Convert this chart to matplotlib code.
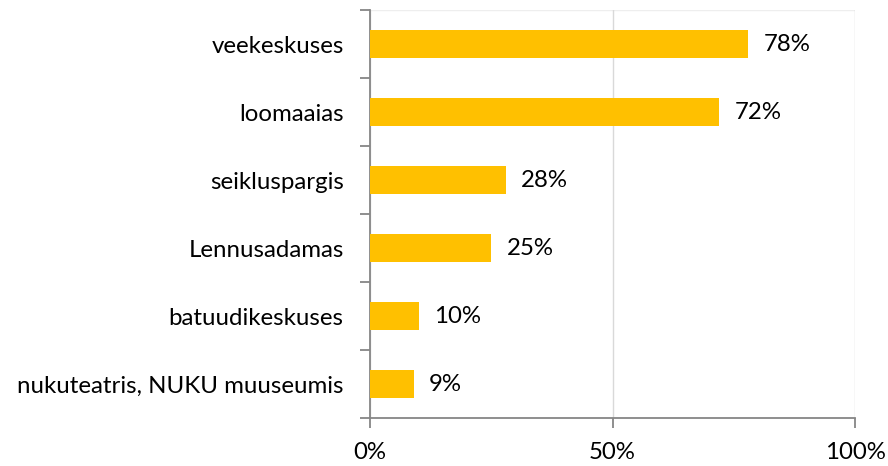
import matplotlib.pyplot as plt
import numpy as np

plt.rcParams['font.family'] = ['Lato', 'DejaVu Sans']

# data, top to bottom as in the picture
categories = ["veekeskuses", "loomaaias", "seikluspargis", "Lennusadamas",
              "batuudikeskuses", "nukuteatris, NUKU muuseumis"]
values = [78, 72, 28, 25, 10, 9]
xticks = [0, 50, 100]

bar_color = "#FFC000"
axis_color = "#868686"
fs = 17.3

fig = plt.figure(figsize=(8.88, 4.66), dpi=100)
ax = fig.add_axes([0.4167, 0.103, 0.5462, 0.8755])

y = np.arange(len(categories))[::-1]
ax.barh(y, values, height=0.4, color=bar_color, zorder=3)

for yi, v in zip(y, values):
    ax.annotate(f"{v}%", xy=(v, yi), xytext=(11, 0), textcoords="offset points",
                va="center", ha="left", fontsize=fs, color="#000000")

ax.set_xlim(0, 100)
ax.set_ylim(-0.5, len(categories) - 0.5)

ax.set_xticks(xticks)
ax.set_xticklabels([f"{t}%" for t in xticks], fontsize=fs)
ax.set_yticks(y)
ax.set_yticklabels(categories, fontsize=fs)

# category boundary ticks on the value axis (Excel style)
ax.set_yticks(np.arange(-0.5, len(categories)), minor=True)
ax.tick_params(axis="y", which="major", length=0, pad=19)
ax.tick_params(axis="y", which="minor", length=7, color=axis_color, width=1.3)
ax.tick_params(axis="x", length=7, color=axis_color, width=1.3, pad=10)

ax.grid(axis="x", color="#d9d9d9", linewidth=1, zorder=0)
ax.axhline(len(categories) - 0.5, color="#eeeeee", linewidth=1, zorder=0)

for side in ["top", "right"]:
    ax.spines[side].set_visible(False)
for side in ["left", "bottom"]:
    ax.spines[side].set_color(axis_color)
    ax.spines[side].set_linewidth(1.3)

fig.savefig("out.png", dpi=100)
